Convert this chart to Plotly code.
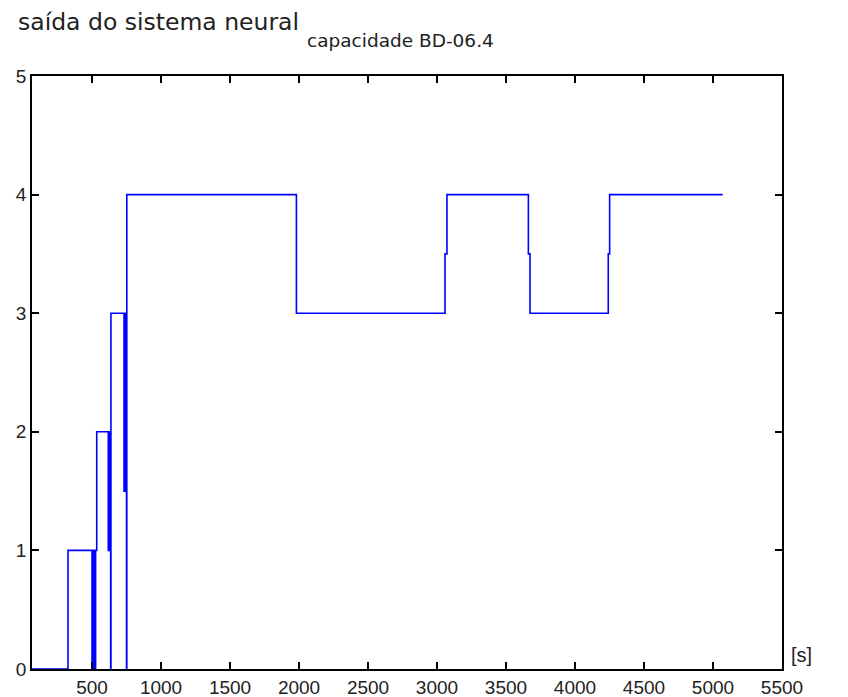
import plotly.graph_objects as go

# step signal: time [s] where the output changes, and the level it takes
t_s = [65, 326, 500, 505, 510, 515, 520, 526, 534,
       618, 622, 626, 630, 633, 635, 637,
       732, 736, 740, 744, 748, 750, 752,
       1981, 3058, 3072, 3662, 3674, 4241, 4251, 5070]
saida = [0, 1, 0, 1, 0, 1, 0, 1, 2,
         1, 2, 1, 2, 1, 0, 3,
         1.5, 3, 1.5, 3, 1.5, 0, 4,
         3, 3.5, 4, 3.5, 3, 3.5, 4, 4]

x_ticks = [500, 1000, 1500, 2000, 2500, 3000, 3500, 4000, 4500, 5000, 5500]
y_ticks = [0, 1, 2, 3, 4, 5]

fig = go.Figure()
fig.add_trace(go.Scatter(
    x=t_s, y=saida, mode="lines", line_shape="hv",
    line=dict(color="#0000ff", width=1.6), showlegend=False,
))

axis_style = dict(
    showline=True, linecolor="black", linewidth=1.5, mirror="ticks",
    ticks="inside", ticklen=7, tickwidth=1.5, tickcolor="black",
    showgrid=False, zeroline=False, automargin=False,
    tickfont=dict(family="Liberation Sans", size=19, color="#222222"),
)

# the page body adds an 8px margin, so the figure sits at (8, 8) in the window
OFF = 8
W, H = 848 - OFF, 697 - OFF
# plot box in window pixels: left 32, right 782, top 76, bottom 669
L, R, T, B = 32 - OFF, W - (782 - OFF), 76 - OFF, H - (669 - OFF)
pw, ph = W - L - R, H - T - B


def px(x):
    return (x - OFF - L) / pw


def py(y):
    return (H - B - (y - OFF)) / ph


fig.update_layout(
    width=W, height=H,
    paper_bgcolor="white", plot_bgcolor="white",
    margin=dict(l=L, r=R, t=T, b=B),
    xaxis=dict(range=[65, 5500], tickvals=x_ticks, **axis_style),
    yaxis=dict(range=[0, 5], tickvals=y_ticks, **axis_style),
    annotations=[
        dict(text="saída do sistema neural", xref="paper", yref="paper",
             x=px(16), y=py(22), xanchor="left", yanchor="middle", showarrow=False,
             font=dict(family="DejaVu Sans", size=23.5, color="#222222")),
        dict(text="capacidade BD-06.4", xref="paper", yref="paper",
             x=px(305), y=py(41), xanchor="left", yanchor="middle", showarrow=False,
             font=dict(family="DejaVu Sans", size=18.5, color="#222222")),
        dict(text="[s]", xref="paper", yref="paper",
             x=px(789), y=py(655), xanchor="left", yanchor="middle", showarrow=False,
             font=dict(family="Liberation Sans", size=20, color="#222222")),
    ],
)

fig.write_html("out.html")
